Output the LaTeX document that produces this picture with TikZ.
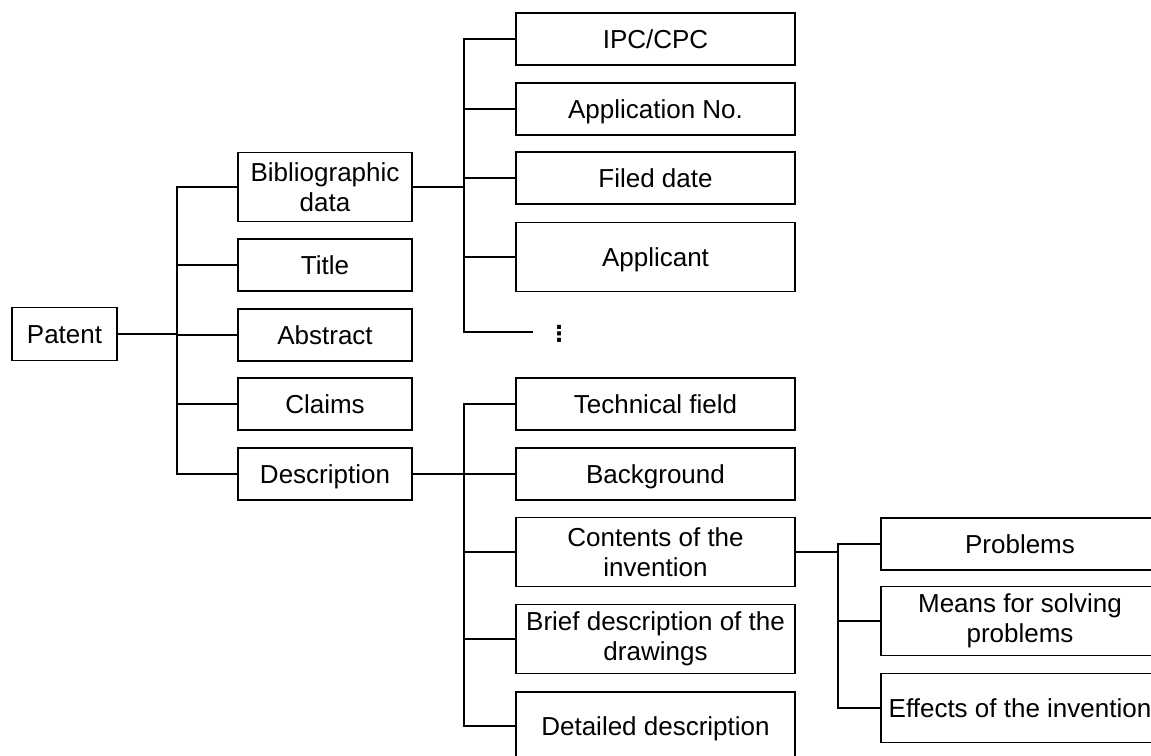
\documentclass[tikz,border=0pt]{standalone}
\usepackage{fontspec}
\setmainfont{Liberation Sans}
\newfontfamily\symfont{DejaVu Sans}
\usetikzlibrary{calc}
\begin{document}
\begin{tikzpicture}[x=1pt,y=-1pt,
  box/.style={draw, line width=1.6pt, rectangle, inner sep=0pt, outer sep=0pt,
    align=center, font=\fontsize{26}{30}\selectfont},
  one/.style={text height=19pt, text depth=1pt},
  lone/.style={box, minimum width=174pt},
  ltwo/.style={box, minimum width=279pt},
  lthree/.style={box, minimum width=278pt},
  short/.style={minimum height=52pt},
  tall/.style={minimum height=69pt},
  link/.style={line width=1.8pt}]
\useasboundingbox (0,0) rectangle (1151,755);
\clip (0,0) rectangle (1151,755);

% root
\node[box, one, minimum width=105pt, minimum height=53pt] (patent) at (64.5,334) {Patent};

% first level
\node[lone, tall] (bib) at (325,187) {Bibliographic\\data};
\node[lone, short, one] (title) at (325,265) {Title};
\node[lone, short, one] (abstract) at (325,335) {Abstract};
\node[lone, short, one] (claims) at (325,404) {Claims};
\node[lone, short, one] (desc) at (325,474) {Description};

% bibliographic data
\node[ltwo, short, one] (ipc) at (655.5,39) {IPC/CPC};
\node[ltwo, short, one] (appno) at (655.5,109) {Application No.};
\node[ltwo, short, one] (filed) at (655.5,178) {Filed date};
\node[ltwo, tall, one] (applicant) at (655.5,257) {Applicant};
\coordinate (moreend) at (533,332);
\node[inner sep=0pt, font=\symfont\bfseries\fontsize{22}{22}\selectfont] (more) at (559,334) {⋮};

% description
\node[ltwo, short, one] (tech) at (655.5,404) {Technical field};
\node[ltwo, short, one] (background) at (655.5,474) {Background};
\node[ltwo, tall] (contents) at (655.5,552) {Contents of the\\invention};
\node[ltwo, tall] (brief) at (655.5,639) {Brief description of the\\drawings};
\node[ltwo, one, minimum height=68pt] (detailed) at (655.5,726) {Detailed description};

% contents of the invention
\node[lthree, short, one] (problems) at (1020,544) {Problems};
\node[lthree, tall] (means) at (1020,621) {Means for solving\\problems};
\node[lthree, tall, one] (effects) at (1020,708) {Effects of the invention};

% connectors: one path per fork so the shared trunk is stroked once
\draw[link] foreach \c in {bib,title,abstract,claims,desc}
  {(patent.east) -| ([xshift=-61pt]\c.west) -- (\c.west)};
\draw[link] foreach \c in {ipc,appno,filed,applicant}
  {(bib.east) -| ([xshift=-52pt]\c.west) -- (\c.west)}
  (bib.east) -| ([xshift=-69pt]moreend) -- (moreend);
\draw[link] foreach \c in {tech,background,contents,brief,detailed}
  {(desc.east) -| ([xshift=-52pt]\c.west) -- (\c.west)};
\draw[link] foreach \c in {problems,means,effects}
  {(contents.east) -| ([xshift=-43pt]\c.west) -- (\c.west)};
\end{tikzpicture}
\end{document}
